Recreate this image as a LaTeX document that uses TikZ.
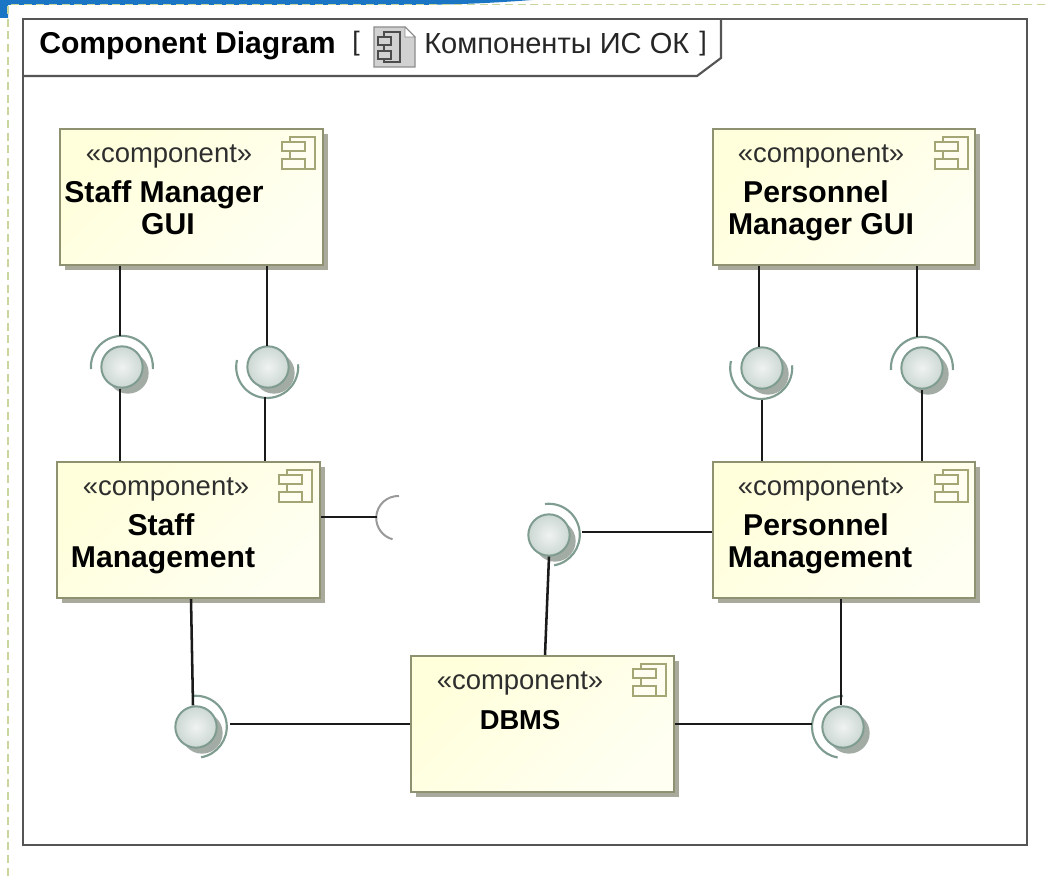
\documentclass[tikz,border=0pt]{standalone}
\usepackage{fontspec}
\setmainfont{Liberation Sans}
\usetikzlibrary{shadows,calc}
\definecolor{framecol}{HTML}{555555}
\definecolor{boxline}{HTML}{8F9270}
\definecolor{boxshadow}{HTML}{A9A99C}
\definecolor{iconcol}{HTML}{A5A676}
\definecolor{ballline}{HTML}{7F9C90}
\definecolor{ballshadow}{HTML}{A3ABA5}
\definecolor{dashcol}{HTML}{C9D79E}
\definecolor{topblue}{HTML}{1A75C4}
\definecolor{linkcol}{HTML}{1A1A1A}
\tikzset{
  x=0.75pt,y=-0.75pt,
  compbox/.style={draw=boxline,line width=1.5pt,minimum width=197pt,minimum height=102pt,inner sep=0pt,
    left color=yellow!14!white,right color=yellow!5!white,shading angle=45,
    drop shadow={shadow xshift=3.75pt,shadow yshift=-3.75pt,opacity=1,fill=boxshadow}},
  stereo/.style={font=\fontsize{20.6pt}{24pt}\selectfont,text=black!82,inner sep=0pt},
  cname/.style={font=\fontsize{22.6pt}{27pt}\selectfont\bfseries,text=black,inner sep=0pt,align=center},
  ball/.style={circle,draw=ballline,line width=1.5pt,minimum size=31pt,inner sep=0pt,
    inner color=ballline!12!white,outer color=ballline!40!white,
    drop shadow={shadow xshift=4.5pt,shadow yshift=-4.5pt,opacity=1,fill=ballshadow}},
  halo/.style={draw=ballline,line width=1.6pt},
  link/.style={draw=linkcol,line width=1.9pt},
  frameline/.style={draw=framecol,line width=1.6pt},
  iconline/.style={draw=iconcol,line width=1.1pt,fill=yellow!6!white},
}
\newcommand{\compicon}[2]{%
  \begin{scope}[shift={(#1,#2)}]
    \draw[iconline] (8,0) rectangle (33,32);
    \draw[iconline] (0,5) rectangle (23,14);
    \draw[iconline] (0,22) rectangle (23,32);
  \end{scope}}
\begin{document}
\begin{tikzpicture}
\useasboundingbox (0,0) rectangle (1045,880);
\fill[white] (0,0) rectangle (1045,880);
% top strip
\fill[topblue] (0,0) -- (532,0) .. controls (480,4) and (440,5) .. (400,5) -- (8,5) -- (8,18) -- (0,18) -- cycle;
\draw[dashcol,line width=1.2pt,dash pattern=on 6pt off 3.5pt] (1045,4.5) -- (8,4.5) -- (8,880);
% frame
\draw[frameline] (23,19) rectangle (1027,845);
\draw[frameline] (23,76) -- (697,76) -- (721,58) -- (721,19);
\node[anchor=west,inner sep=0pt,font=\fontsize{22.6pt}{26pt}\selectfont\bfseries] (title) at (39,46) {Component Diagram};
\node[anchor=west,inner sep=0pt,font=\fontsize{20pt}{24pt}\selectfont,text=black!85] (lbr) at (352,44) {[};
\node[anchor=west,inner sep=0pt,font=\fontsize{20pt}{24pt}\selectfont,text=black!85] (rbr) at (699,44) {]};
\node[anchor=west,inner sep=0pt,font=\fontsize{21.8pt}{26pt}\selectfont,text=black!85] (diagname) at (424,43) {Компоненты ИС ОК};
% diagram icon
\draw[draw=black!45,fill=black!18,line width=0.8pt] (374,27) -- (405,27) -- (415,37) -- (415,67) -- (374,67) -- cycle;
\draw[draw=black!45,fill=white,line width=0.6pt] (405,27) -- (415,37) -- (405,37) -- cycle;
\draw[draw=black!70,line width=1.1pt] (384,32) rectangle (400,62);
\draw[draw=black!70,fill=black!18,line width=1.1pt] (378,37) rectangle (391,45);
\draw[draw=black!70,fill=black!18,line width=1.1pt] (378,51) rectangle (391,59);

\node[compbox] (smg) at (191.5,197) {};
\node[compbox] (pmg) at (844,197) {};
\node[compbox] (sm) at (188.5,530) {};
\node[compbox] (pm) at (844,530) {};
\node[compbox] (dbms) at (542.5,724) {};
\compicon{282}{137}
\compicon{935}{137}
\compicon{279}{470}
\compicon{935}{470}
\compicon{633}{664}
% box texts
\node[stereo] (t1) at (169,156) {«component»};
\node[stereo] (t2) at (821,156) {«component»};
\node[stereo] (t3) at (166,489) {«component»};
\node[stereo] (t4) at (821,489) {«component»};
\node[stereo] (t5) at (520,683) {«component»};
\node[cname] (n1a) at (164,195) {Staff Manager};
\node[cname] (n1b) at (168,224) {GUI};
\node[cname] (n2a) at (816,192) {Personnel};
\node[cname] (n2b) at (821,227) {Manager GUI};
\node[cname] (n3a) at (161,525) {Staff};
\node[cname] (n3b) at (163,560) {Management};
\node[cname] (n4a) at (816,525) {Personnel};
\node[cname] (n4b) at (820,560) {Management};
\node[cname,font=\fontsize{20.5pt}{25pt}\selectfont\bfseries] (n5) at (520,720) {DBMS};

\node[ball] (a) at (122,367) {};
\node[ball] (b) at (268,367) {};
\node[ball] (c) at (762,368) {};
\node[ball] (d) at (922,368) {};
\node[ball] (e) at (549,535) {};
\node[ball] (f) at (196,727) {};
\node[ball] (g) at (843,727) {};
% halos; angles are measured on the flipped y axis
\draw[halo] ($(a)+(-31,2)$) arc[start angle=176,end angle=364,radius=31];
\draw[halo] ($(b)+(-31,-7)$) arc[start angle=193,end angle=-5,radius=31];
\draw[halo] ($(c)+(-31,-7)$) arc[start angle=193,end angle=-5,radius=31];
\draw[halo] ($(d)+(-31,2)$) arc[start angle=176,end angle=364,radius=31];
\draw[halo] ($(e)+(-4,-31)$) arc[start angle=263,end angle=440,radius=31];
\draw[halo] ($(f)+(-4,-31)$) arc[start angle=263,end angle=440,radius=31];
\draw[halo] ($(g)+(0,-31)$) arc[start angle=270,end angle=100,radius=31];
% connector ends on the halos
\coordinate (aout) at ($(a)+(-2,-31)$);
\coordinate (bout) at ($(b)+(-1,-21)$);
\coordinate (cout) at ($(c)+(-3,-21)$);
\coordinate (dout) at ($(d)+(-5,-31)$);
\coordinate (eout) at ($(e)+(33,-3)$);
\coordinate (fout) at ($(f)+(34,-3)$);
\coordinate (gout) at ($(g)+(-31,-3)$);
\coordinate (sock) at (377,517);
\draw[draw=black!40,line width=1.5pt] (399,496) arc[start angle=272,end angle=105,radius=22];
% connectors
\draw[link] (smg.south -| aout) -- (aout);
\draw[link] (smg.south -| bout) -- (bout);
\draw[link] (pmg.south -| cout) -- (cout);
\draw[link] (pmg.south -| dout) -- (dout);
\draw[link] ($(a.south)+(-2,0)$) -- ($(sm.north -| a.south)+(-2,0)$);
\draw[link] ($(b.south)+(-3,8)$) -- ($(sm.north -| b.south)+(-3,0)$);
\draw[link] ($(c.south)+(0,10)$) -- (pm.north -| c.south);
\draw[link] (d.south) -- (pm.north -| d.south);
\draw[link] (sm.east |- sock) -- (sock);
\draw[link] (eout) -- (pm.west |- eout);
\draw[link] (e.south) -- ($(dbms.north -| e.south)+(-4,0)$);
\draw[link] ($(sm.south -| f.north)+(-5,0)$) -- ($(f.north)+(-3,0)$);
\draw[link] (fout) -- (dbms.west |- fout);
\draw[link] (pm.south -| g.north) ++(-2,0) -- ($(g.north)+(-2,0)$);
\draw[link] (dbms.east |- gout) -- (gout);
\end{tikzpicture}
\end{document}
